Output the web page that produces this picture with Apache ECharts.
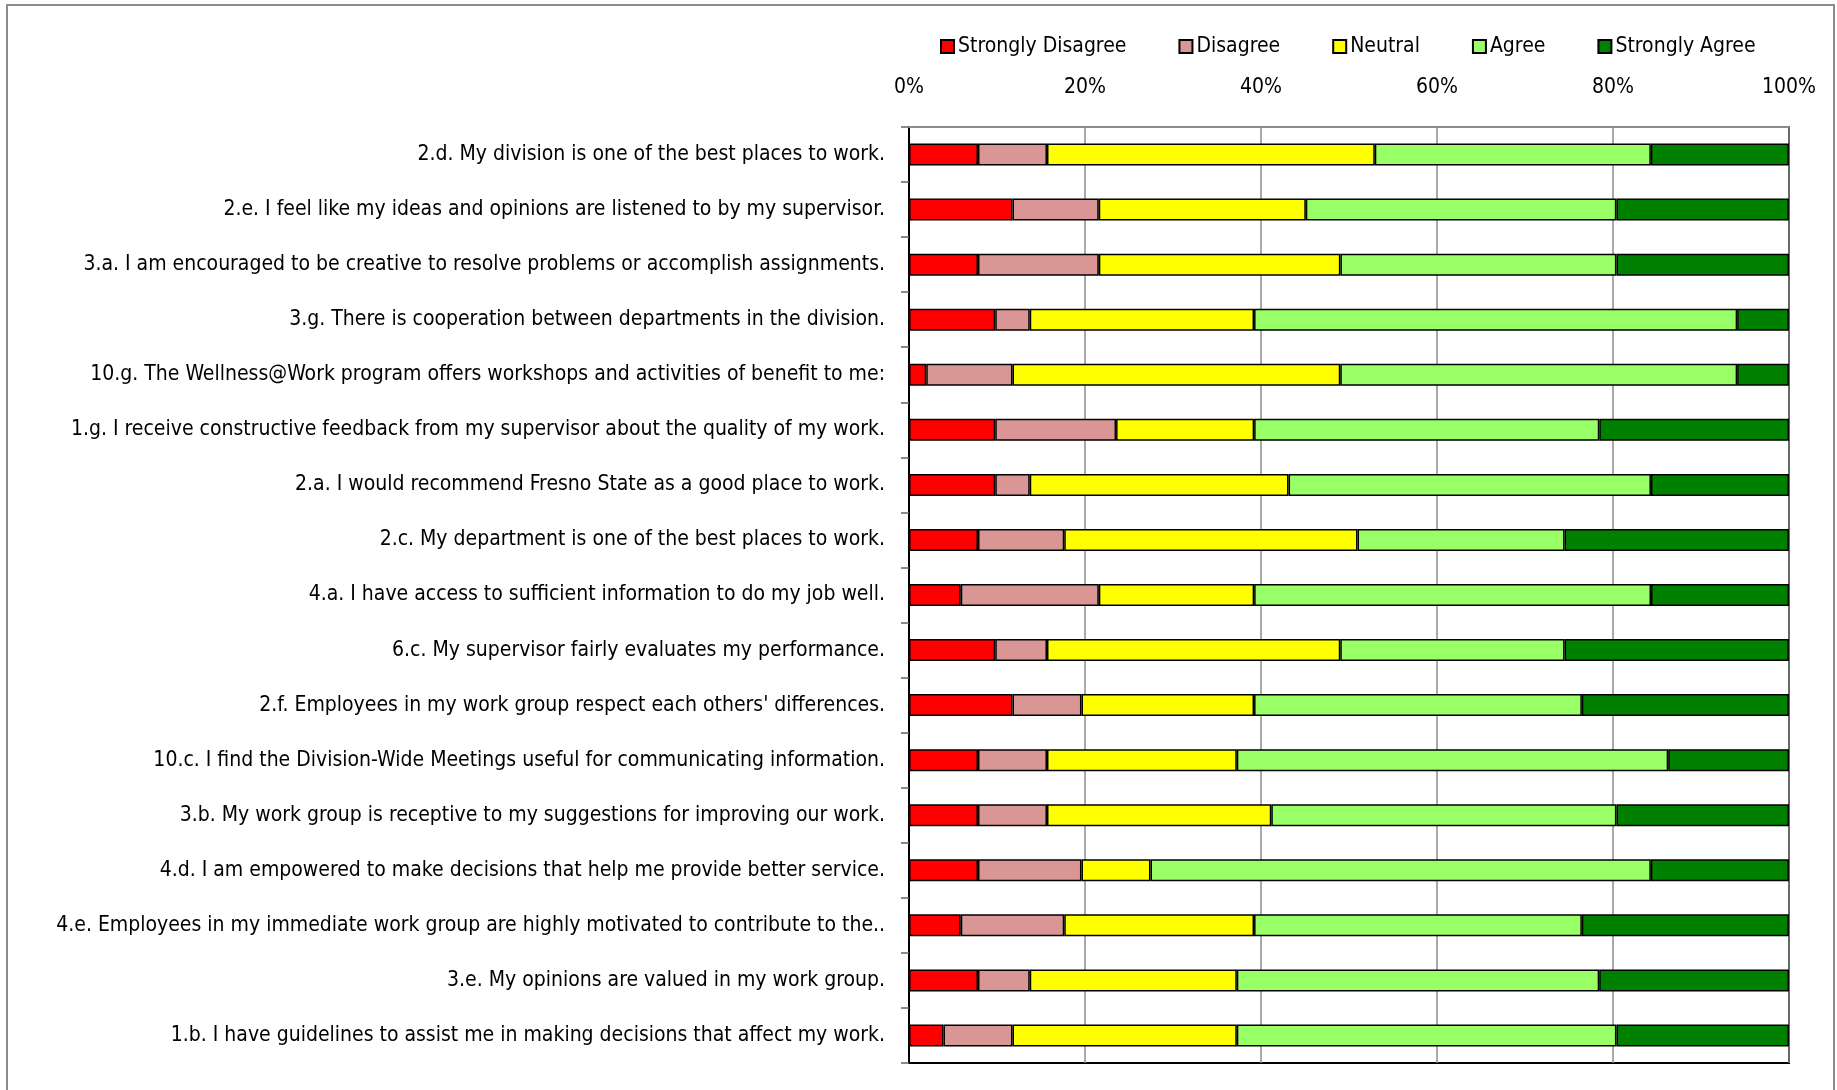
<!DOCTYPE html>
<html>
<head>
<meta charset="utf-8">
<script src="https://cdn.jsdelivr.net/npm/echarts@6/dist/echarts.min.js"></script>
<style>
html,body{margin:0;padding:0;background:#fff;}
#chart{width:1837px;height:1090px;}
</style>
</head>
<body>
<div id="chart"></div>
<script>
const categories = [
  "2.d. My division is one of the best places to work.",
  "2.e. I feel like my ideas and opinions are listened to by my supervisor.",
  "3.a. I am encouraged to be creative to resolve problems or accomplish assignments.",
  "3.g. There is cooperation between departments in the division.",
  "10.g. The Wellness@Work program offers workshops and activities of benefit to me:",
  "1.g. I receive constructive feedback from my supervisor about the quality of my work.",
  "2.a. I would recommend Fresno State as a good place to work.",
  "2.c. My department is one of the best places to work.",
  "4.a. I have access to sufficient information to do my job well.",
  "6.c. My supervisor fairly evaluates my performance.",
  "2.f. Employees in my work group respect each others' differences.",
  "10.c. I find the Division-Wide Meetings useful for communicating information.",
  "3.b. My work group is receptive to my suggestions for improving our work.",
  "4.d. I am empowered to make decisions that help me provide better service.",
  "4.e. Employees in my immediate work group are highly motivated to contribute to the..",
  "3.e. My opinions are valued in my work group.",
  "1.b. I have guidelines to assist me in making decisions that affect my work."
];
const seriesNames = ["Strongly Disagree", "Disagree", "Neutral", "Agree", "Strongly Agree"];
const stronglyDisagree = [7.84, 11.76, 7.84, 9.80, 1.96, 9.80, 9.80, 7.84, 5.88, 9.80, 11.76, 7.84, 7.84, 7.84, 5.88, 7.84, 3.92];
const disagree         = [7.84, 9.80, 13.73, 3.92, 9.80, 13.73, 3.92, 9.80, 15.69, 5.88, 7.84, 7.84, 7.84, 11.76, 11.76, 5.88, 7.84];
const neutral          = [37.25, 23.53, 27.45, 25.49, 37.25, 15.69, 29.41, 33.33, 17.65, 33.33, 19.61, 21.57, 25.49, 7.84, 21.57, 23.53, 25.49];
const agree            = [31.37, 35.29, 31.37, 54.90, 45.10, 39.22, 41.18, 23.53, 45.10, 25.49, 37.25, 49.02, 39.22, 56.86, 37.25, 41.18, 43.14];
const stronglyAgree    = [15.69, 19.61, 19.61, 5.88, 5.88, 21.57, 15.69, 25.49, 15.69, 25.49, 23.53, 13.73, 19.61, 15.69, 23.53, 21.57, 19.61];
const xTicks = [0, 20, 40, 60, 80, 100];

const colors = ["#FF0000", "#D99694", "#FFFF00", "#99FF66", "#008000"];
const values = [stronglyDisagree, disagree, neutral, agree, stronglyAgree];
const FONT = "'Liberation Sans Narrow', 'Arial Narrow', 'DejaVu Sans Condensed', sans-serif";
const FS = 21;

const chart = echarts.init(document.getElementById('chart'));
chart.setOption({
  animation: false,
  backgroundColor: '#fff',
  textStyle: {fontFamily: FONT},
  graphic: [{
    type: 'rect', silent: true,
    shape: {x: 7, y: 5, width: 1827, height: 1100},
    style: {fill: 'none', stroke: '#8c8c8c', lineWidth: 2}
  }],
  legend: {
    left: 935, top: 31,
    itemWidth: 13, itemHeight: 13, itemGap: 52,
    icon: 'rect',
    textStyle: {fontFamily: FONT, fontSize: FS, color: '#000', padding: [0, 0, 0, -1]},
    data: seriesNames
  },
  grid: {
    left: 909, right: 48, top: 127, bottom: 27,
    containLabel: false, outerBoundsMode: 'none',
    show: true, borderColor: '#000', borderWidth: 2, backgroundColor: 'transparent'
  },
  xAxis: {
    type: 'value', position: 'top', min: 0, max: 100, interval: 20,
    axisLine: {show: true, lineStyle: {color: '#8c8c8c', width: 2}},
    axisTick: {show: false},
    splitLine: {show: true, lineStyle: {color: '#8c8c8c', width: 1.5}},
    axisLabel: {
      formatter: function (v) { return xTicks.indexOf(v) >= 0 ? v + '%' : ''; },
      fontFamily: FONT, fontSize: FS, color: '#000', margin: 29
    }
  },
  yAxis: {
    type: 'category', inverse: true, data: categories,
    axisLine: {show: true, lineStyle: {color: '#000', width: 2}},
    axisTick: {show: true, length: 8, interval: 0, lineStyle: {color: '#666', width: 1.5}},
    axisLabel: {fontFamily: FONT, fontSize: FS, color: '#000', margin: 24, interval: 0, padding: [4, 0, 0, 0]}
  },
  series: seriesNames.map(function (name, i) {
    return {
      name: name, type: 'bar', stack: 'total', barWidth: 22,
      data: values[i],
      itemStyle: {color: colors[i], borderColor: '#000', borderWidth: 1.5},
      emphasis: {disabled: true}
    };
  })
});
</script>
</body>
</html>
